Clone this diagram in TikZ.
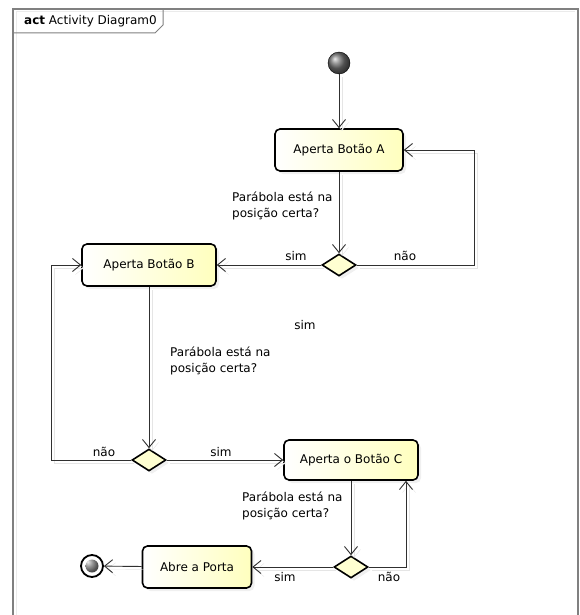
\documentclass[tikz,border=0pt]{standalone}
\usepackage{fontspec}
\setmainfont{DejaVu Sans}
\usetikzlibrary{arrows.meta,shapes.geometric,shadows}
\definecolor{actFill}{HTML}{FFFFBE}
\definecolor{actLine}{HTML}{303030}
\definecolor{actFrame}{HTML}{808080}

\begin{document}
\begin{tikzpicture}[x=1pt, y=-1pt,
    font=\fontsize{12}{16}\selectfont,
    act/.style={draw=black, line width=1.6pt, rounded corners=5pt,
      left color=white, right color=actFill, minimum height=42pt,
      align=center, drop shadow={shadow xshift=3pt, shadow yshift=-3pt, opacity=0.12}},
    dec/.style={diamond, draw=black, line width=1.6pt, fill=actFill!70,
      minimum width=34pt, minimum height=22pt, inner sep=0pt,
      drop shadow={shadow xshift=3pt, shadow yshift=-3pt, opacity=0.12}},
    arr/.style={-{Straight Barb[length=8pt,width=13pt]}, actLine, line width=0.9pt,
      preaction={draw=black!10, transform canvas={shift={(3pt,-3pt)}}}},
    frame/.style={draw=actFrame, line width=1.4pt},
    lbl/.style={inner sep=1pt},
    q/.style={anchor=north west, align=left, inner sep=0pt}]
  \useasboundingbox (0,0) rectangle (579,615);
  \draw[draw=black!8, line width=1pt] (16,615) -- (16,12) -- (575,12);
  \draw[frame] (13,615) -- (13,9) -- (578,9) -- (578,615);
  \draw[frame, line width=1pt] (13,33) -- (155,33) -- (163,25) -- (163,9);
  \node[anchor=west, inner sep=0pt] (title) at (24,21) {\textbf{act} Activity Diagram0};

  \node[circle, draw=black, minimum size=22pt, inner sep=0pt, ball color=black!55] (start) at (339,63) {};
  \node[act, minimum width=128pt] (a) at (339,150) {Aperta Botão A};
  \node[dec] (d1) at (339,265) {};
  \node[act, minimum width=134pt] (b) at (149,265) {Aperta Botão B};
  \node[dec] (d2) at (149,460) {};
  \node[act, minimum width=134pt, minimum height=40pt] (c) at (351,460) {Aperta o Botão C};
  \node[dec] (d3) at (351,567) {};
  \node[act, minimum width=109pt] (door) at (197,567) {Abre a Porta};
  \node[circle, draw=black, line width=1.8pt, fill=white, minimum size=22pt, inner sep=0pt,
    path picture={\fill[ball color=black!55] (path picture bounding box.center) circle (6.5pt);}] (stop) at (92,566) {};

  \coordinate (aback) at (474,150);
  \coordinate (bback) at (51,265);
  \coordinate (cback) at (406,567);

  \draw[arr] (start) -- (a);
  \draw[arr] (a) -- (d1);
  \draw[arr] (d1.east) -| (aback) -- (a.east);
  \draw[arr] (d1) -- (b);
  \draw[arr] (b) -- (d2);
  \draw[arr] (d2.west) -| (bback) -- (b.west);
  \draw[arr] (d2) -- (c);
  \draw[arr] (c) -- (d3);
  \draw[arr] (d3.east) -- (cback) -- (cback |- c.south);
  \draw[arr] (d3) -- (door);
  \draw[arr] (door) -- (stop);

  \node[q] (qa) at (232,192) {Parábola está na\\posição certa?};
  \node[q] (qb) at (170,347) {Parábola está na\\posição certa?};
  \node[q] (qc) at (242,492) {Parábola está na\\posição certa?};
  \node[lbl] (s1) at (296,256) {sim};
  \node[lbl] (n1) at (405,256) {não};
  \node[lbl] (s0) at (305,325) {sim};
  \node[lbl] (n2) at (104,452) {não};
  \node[lbl] (s2) at (221,452) {sim};
  \node[lbl] (s3) at (285,577) {sim};
  \node[lbl] (n3) at (389,577) {não};
\end{tikzpicture}
\end{document}
